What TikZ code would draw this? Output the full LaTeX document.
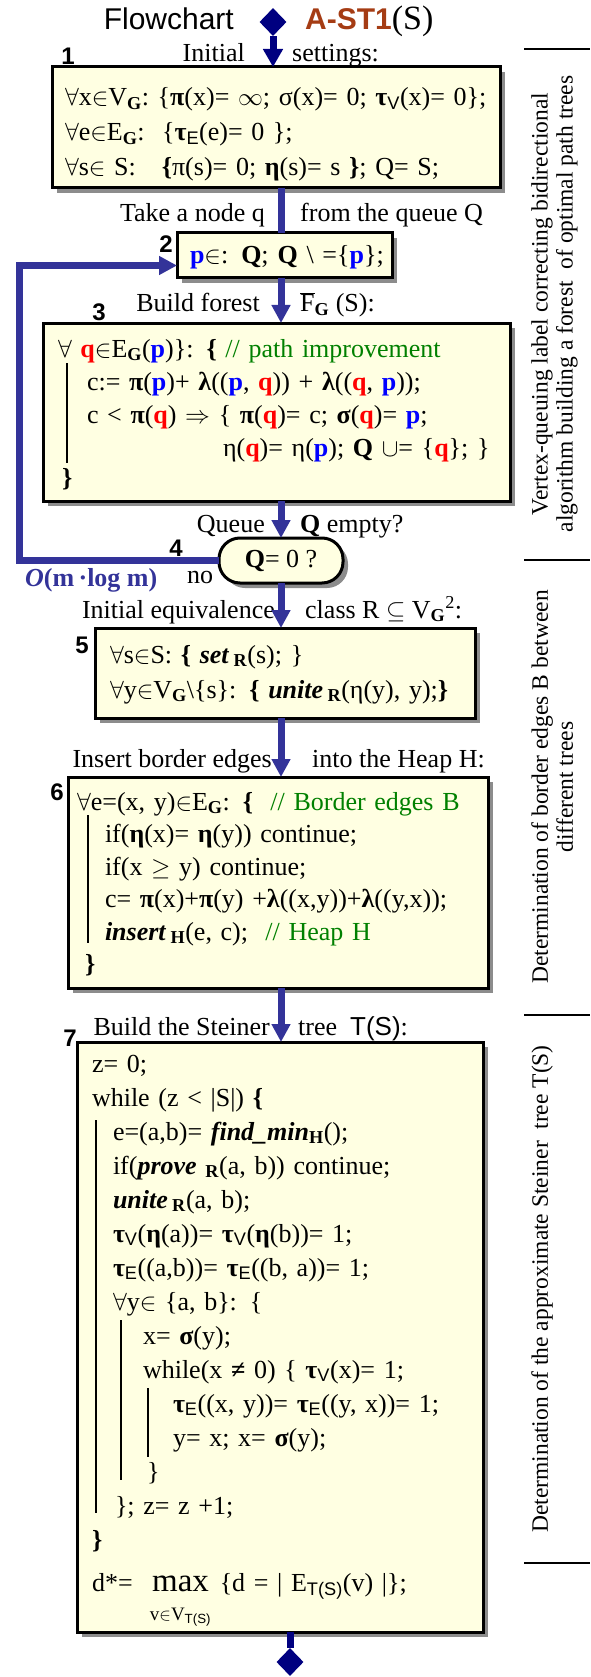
\documentclass[tikz,border=0pt]{standalone}
\usepackage{fontspec}
\setmainfont{Liberation Serif}
\setsansfont{Liberation Sans}
\usepackage{tikz}
\usetikzlibrary{shapes,arrows.meta,shadows}
\definecolor{flowblue}{RGB}{51,51,153}
\definecolor{navy}{RGB}{0,0,128}
\definecolor{algbrown}{RGB}{165,60,20}
\definecolor{boxfill}{RGB}{255,255,226}
\definecolor{shadowgray}{RGB}{140,140,140}
\definecolor{pblue}{RGB}{0,0,255}
\definecolor{qred}{RGB}{255,0,0}
\definecolor{cgreen}{RGB}{0,128,0}
\newcommand{\pp}{\textcolor{pblue}{\textbf{p}}}
\newcommand{\qq}{\textcolor{qred}{\textbf{q}}}
\newcommand{\cm}[1]{\textcolor{cgreen}{#1}}
\newcommand{\low}[1]{\textsubscript{#1}}
\newcommand{\fa}{\(\forall\)}
\newcommand{\el}{\(\in\)}
\tikzstyle{box}=[rectangle, draw=black, line width=3pt, fill=boxfill, anchor=north west,
        inner xsep=0pt, inner ysep=0pt, outer sep=0pt, align=left,
        drop shadow={shadow xshift=5pt, shadow yshift=-5pt, fill=shadowgray, opacity=1}]
\tikzstyle{decision}=[rectangle, rounded corners=21pt, draw=black, line width=3pt, fill=boxfill,
        minimum width=124pt, minimum height=45pt, inner sep=0pt, outer sep=0pt, font=\fontsize{26}{30}\selectfont,
        drop shadow={shadow xshift=5pt, shadow yshift=-5pt, fill=shadowgray, opacity=1}]
\tikzstyle{term}=[diamond, fill=navy, minimum width=27pt, minimum height=28pt, inner sep=0pt]
\tikzstyle{flow}=[draw=flowblue, line width=7pt, -{Triangle[length=18pt,width=18pt]}]
\tikzstyle{flowline}=[draw=flowblue, line width=7pt]
\tikzstyle{navyflow}=[draw=navy, line width=7pt, -{Triangle[length=18pt,width=19pt]}]
\tikzstyle{stepno}=[font=\fontsize{24}{24}\selectfont\sffamily\bfseries, inner sep=0pt]
\tikzstyle{lbl}=[font=\fontsize{26}{30}\selectfont, inner sep=0pt]
\tikzstyle{side}=[rotate=90, anchor=north, align=center, font=\fontsize{23.5}{25}\selectfont, inner sep=0pt]
\tikzstyle{bar}=[line width=2pt]
\tikzstyle{sep}=[line width=1.5pt]

\begin{document}
\begin{tikzpicture}[x=1pt, y=1pt]
\useasboundingbox (0,0) rectangle (590,-1677);

% title
\node[anchor=base east, inner sep=0pt, font=\fontsize{30}{30}\selectfont\sffamily] (ttl) at (234,-30) {Flowchart};
\node[anchor=base west, inner sep=0pt, font=\fontsize{30}{30}\selectfont] (alg) at (305,-30) {\textcolor{algbrown}{\sffamily\bfseries A-ST1}{\fontsize{34}{34}\selectfont(S)}};
\node[term] (start) at (273,-22) {};

% blocks
\node[box, text width=448pt, text height=39pt, text depth=82pt, font=\fontsize{26}{35}\selectfont] (init) at (52,-67)
  {\leftskip=13pt
   \fa x\el V\low{\textbf{G}}:\ \{\textbf{π}(x)= \(\infty\); σ(x)= 0; \textbf{τ}\low{\sffamily V}(x)= 0\};\\
   \fa e\el E\low{\textbf{G}}:\ \ \{\textbf{τ}\low{\sffamily E}(e)= 0 \};\\
   \fa s\el\ S:\ \ \ \textbf{\{}π(s)= 0; \textbf{η}(s)= s \textbf{\}}; Q= S;\par};
\node[box, text width=215pt, text height=31pt, text depth=14pt, font=\fontsize{26}{35}\selectfont] (take) at (177,-233)
  {\leftskip=13pt \mbox{\pp\el: \textbf{Q};\hspace{9pt}\textbf{Q} \textbackslash{} =\{\pp\};}\par};
\node[box, text width=467pt, text height=34pt, text depth=144pt, font=\fontsize{26}{33}\selectfont] (forest) at (43,-323)
  {\leftskip=15pt
   \fa\ \qq\el E\low{\textbf{G}}(\pp)\}: \textbf{\{} \cm{// path improvement}\\
   \hspace*{29pt}c:= \textbf{π}(\pp)+ \textbf{λ}((\pp, \qq)) + \textbf{λ}((\qq, \pp));\\
   \hspace*{29pt}c < \textbf{π}(\qq) \(\Rightarrow\) \{ \textbf{π}(\qq)= c; \textbf{σ}(\qq)= \pp;\\
   \hspace*{165pt}η(\qq)= η(\pp); \textbf{Q} \(\cup\)= \{\qq \}; \}\\[-3pt]
   \hspace*{4pt}\textbf{\}}\par};
\node[decision] (test) at (281,-560.5) {\textbf{Q}= 0 ?};
\node[box, text width=380pt, text height=35pt, text depth=55pt, font=\fontsize{26}{35}\selectfont] (equiv) at (95,-628)
  {\leftskip=15pt
   \fa s\el S: \textbf{\{} \textbf{\textit{set}}\,\low{\textbf{R}}(s); \}\\
   \fa y\el V\low{\textbf{G}}\textbackslash\{s\}: \textbf{\{} \textbf{\textit{unite}}\,\low{\textbf{R}}(η(y), y);\textbf{\}}\par};
\node[box, text width=420pt, text height=33pt, text depth=178pt, font=\fontsize{26}{32.5}\selectfont] (border) at (68,-777)
  {\leftskip=9pt
   \fa e=(x, y)\el E\low{\textbf{G}}: \textbf{\{}\ \ \cm{// Border edges B}\\
   \hspace*{28pt}if(\textbf{η}(x)= \textbf{η}(y)) continue;\\
   \hspace*{28pt}if(x \(\geq\) y) continue;\\
   \hspace*{28pt}c= \textbf{π}(x)+\textbf{π}(y) +\textbf{λ}((x,y))+\textbf{λ}((y,x));\\
   \hspace*{28pt}\textbf{\textit{insert}}\,\low{\textbf{H}}(e, c);\ \ \cm{// Heap H}\\
   \hspace*{8pt}\textbf{\}}\par};
\node[box, text width=406pt, text height=30pt, text depth=560pt, font=\fontsize{26}{34}\selectfont] (steiner) at (77,-1042)
  {\leftskip=15pt
   z= 0;\\
   while (z < |S|) \textbf{\{}\\
   \hspace*{21pt}e=(a,b)= \textbf{\textit{find\_min}}\low{\textbf{H}}();\\
   \hspace*{21pt}if(\textbf{\textit{prove}}\ \low{\textbf{R}}(a, b)) continue;\\
   \hspace*{21pt}\textbf{\textit{unite}}\,\low{\textbf{R}}(a, b);\\
   \hspace*{21pt}\textbf{τ}\low{\sffamily V}(\textbf{η}(a))= \textbf{τ}\low{\sffamily V}(\textbf{η}(b))= 1;\\
   \hspace*{21pt}\textbf{τ}\low{\sffamily E}((a,b))= \textbf{τ}\low{\sffamily E}((b, a))= 1;\\
   \hspace*{21pt}\fa y\el\ \{a, b\}: \{\\
   \hspace*{51pt}x= \textbf{σ}(y);\\
   \hspace*{51pt}while(x \textbf{≠} 0) \{ \textbf{τ}\low{\sffamily V}(x)= 1;\\
   \hspace*{81pt}\textbf{τ}\low{\sffamily E}((x, y))= \textbf{τ}\low{\sffamily E}((y, x))= 1;\\
   \hspace*{81pt}y= x; x= \textbf{σ}(y);\\
   \hspace*{55pt}\}\\
   \hspace*{23pt}\}; z= z +1;\\
   \textbf{\}}\\[9pt]
   d*=\ \ \(\mathop{\mbox{\fontsize{33}{33}\selectfont\rmfamily max}}\limits_{\mbox{\rule{0pt}{27pt}\fontsize{19}{19}\selectfont v\(\in\)V\low{\sffamily T(S)}}}\) \{d = | E\low{\sffamily T(S)}(v) |\};\par};
\node[term] (stop) at (290,-1662) {};

% step numbers
\node[stepno] (k1) at (68,-56) {1};
\node[stepno] (k2) at (166,-244) {2};
\node[stepno] (k3) at (99,-312) {3};
\node[stepno] (k4) at (176,-548) {4};
\node[stepno] (k5) at (82,-645) {5};
\node[stepno] (k6) at (57,-792) {6};
\node[stepno] (k7) at (70,-1038) {7};

% labels beside the arrows
\node[lbl, anchor=base east] (l1a) at (245,-62) {Initial};
\node[lbl, anchor=base west] (l1b) at (292,-62) {settings:};
\node[lbl, anchor=base east] (l2a) at (265,-222) {Take a node q};
\node[lbl, anchor=base west] (l2b) at (300,-222) {from the queue Q};
\node[lbl, anchor=base east] (l3a) at (260,-312) {Build forest};
\node[lbl, anchor=base west] (l3b) at (300,-312) {\(\overline{\mbox{F}}\)\low{\textbf{G}} (S):};
\node[lbl, anchor=base east] (l4a) at (265,-532) {Queue};
\node[lbl, anchor=base west] (l4b) at (300,-532) {\textbf{Q} empty?};
\node[lbl, anchor=base east] (l5a) at (275,-618) {Initial equivalence};
\node[lbl, anchor=base west] (l5b) at (305,-618) {class R \(\subseteq\) V\low{\textbf{G}}\textsuperscript{2}:};
\node[lbl, anchor=base east] (l6a) at (272,-767) {Insert border edges};
\node[lbl, anchor=base west] (l6b) at (312,-767) {into the Heap H:};
\node[lbl, anchor=base east] (l7a) at (270,-1035) {Build the Steiner};
\node[lbl, anchor=base west] (l7b) at (298,-1035) {tree\ \ {\sffamily T(S)}:};
\node[lbl, anchor=base west] (no) at (187,-583) {no};
\node[lbl, anchor=base west, text=flowblue] (cost) at (25,-586) {\textbf{\textit{O}(m\,·log m)}};

% connectors
\draw[navyflow] (start) -- (start |- init.north);
\draw[flowline] (init.south -| test) -- (take.north -| test);
\draw[flow] (take.south -| test) -- (forest.north -| test);
\draw[flow] (forest.south -| test) -- (test.north);
\draw[flow] (test.west) -- ++(-200,0) |- ([yshift=-10pt]take.west);
\draw[flow] (test.south) -- (equiv.north -| test);
\draw[flow] (equiv.south -| test) -- (border.north -| test);
\draw[flow] (border.south -| test) -- (steiner.north -| test);
\draw[draw=navy, line width=7pt] (steiner.south -| stop) -- (stop);

% nesting bars
\draw[bar] ([shift={(24pt,-40pt)}]forest.north west) -- ++(0,-100);
\draw[bar] ([shift={(20pt,-38pt)}]border.north west) -- ++(0,-128);
\draw[bar] ([shift={(19pt,-78pt)}]steiner.north west) -- ++(0,-393);
\draw[bar] ([shift={(44pt,-278pt)}]steiner.north west) -- ++(0,-160);
\draw[bar] ([shift={(71pt,-346pt)}]steiner.north west) -- ++(0,-69);

% side column
\foreach \y in {49,560,1015,1563} \draw[sep] (524,-\y) -- (590,-\y);
\node[side] (sideA) at (531,-304) {Vertex-queuing label correcting bidirectional\\algorithm building a forest\ \ of optimal path trees};
\node[side] (sideB) at (531,-787) {Determination of border edges B between\\different trees};
\node[side] (sideC) at (531,-1289) {Determination of the approximate Steiner\ \ tree T(S)};

\end{tikzpicture}
\end{document}
